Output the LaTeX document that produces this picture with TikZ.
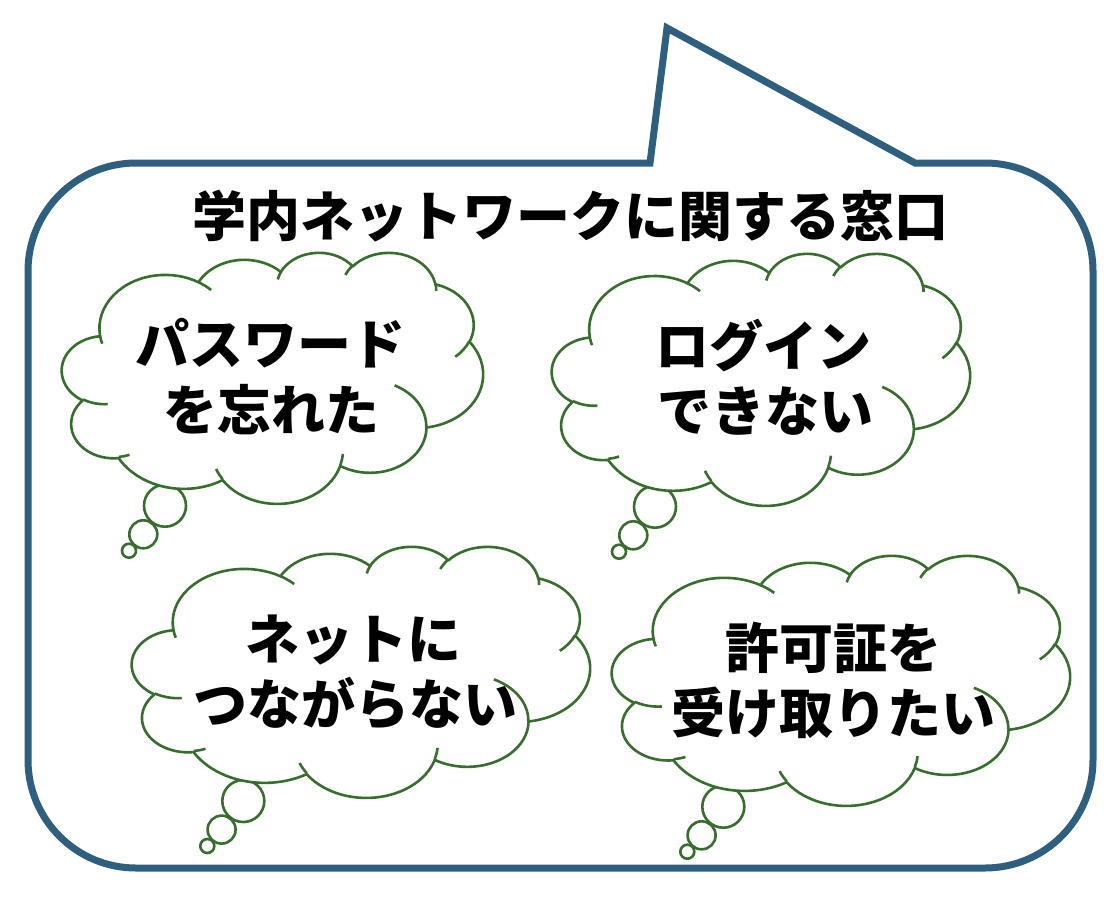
\documentclass[tikz,border=0pt]{standalone}
\usepackage{fontspec}
\newfontfamily\cjk{Noto Sans CJK JP}
\definecolor{bubbleblue}{RGB}{46,95,127}
\definecolor{cloudgreen}{RGB}{55,110,45}
\makeatletter
\pgfmathdeclarefunction{vconv}{3}{%
  \begingroup
  \pgfmathparse{atan2((#2)*sin(#1),(#3)*cos(#1))}%
  \let\vc@p\pgfmathresult
  \pgfmathparse{(#1)+atan2(sin(\vc@p-(#1)),cos(\vc@p-(#1)))}%
  \pgfmath@smuggleone\pgfmathresult
  \endgroup}
\makeatother
\newcommand\oarc[4]{arc[x radius=#1, y radius=#2, start angle={vconv(#3,#1,#2)}, end angle={vconv(#3+#4,#1,#2)}]}
\newcommand\cloudouter{(39.00,143.70)
  \oarc{67.53}{91.90}{-190.4875}{123.7805}
  \oarc{53.33}{72.67}{-144.10238}{89.94523}
  \oarc{43.65}{59.45}{-145.80792}{99.72302}
  \oarc{48.57}{65.95}{-130.98607}{117.24173}
  \oarc{53.33}{72.73}{-78.70888}{109.02692}
  \oarc{67.75}{92.20}{-46.26725}{130.269}
  \oarc{57.85}{78.67}{0.62502}{114.03333}
  \oarc{67.52}{92.15}{22.4516}{115.17255}
  \oarc{77.20}{105.43}{66.24263}{75.71102}
  \oarc{43.60}{59.18}{-274.94208}{146.73557}
  \oarc{43.45}{59.45}{-246.8285}{152.51885}
  -- cycle}
\newcommand\cloudinner{
  (46.93,261.77) \oarc{43.45}{59.45}{86.742}{26.4295}
  (69.28,348.99) \oarc{43.60}{59.18}{73.61047}{11.44747}
  (164.78,390.90) \oarc{67.52}{92.15}{137.62415}{14.0811}
  (288.27,347.51) \oarc{67.52}{92.15}{6.45327}{15.99835}
  (341.29,229.54) \oarc{57.85}{78.67}{-70.29235}{70.91737}
  (417.98,153.54) \oarc{53.33}{72.73}{30.31803}{27.7515}
  (383.24,54.26) \oarc{48.57}{65.95}{-13.74433}{14.8589}
  (290.78,39.52) \oarc{48.57}{65.95}{-149.18145}{18.19537}
  (221.41,47.20) \oarc{43.65}{59.45}{-163.49427}{17.68635}
  (140.00,51.92) \oarc{67.53}{91.90}{-66.70695}{12.31935}
  (41.27,157.89) \oarc{67.53}{91.90}{157.65435}{11.85817}}
\newcommand\drawcloud[4]{%
  \begin{scope}[shift={(#1,-#2)}, xscale=#3/432, yscale=-#4/432]
    \draw[cloudline, fill=white] \cloudouter;
    \draw[cloudline] \cloudinner;
  \end{scope}}
\tikzset{
  cloudline/.style={draw=cloudgreen, line width=2.6pt, line join=round},
  bubbleline/.style={draw=bubbleblue, line width=7pt, line join=miter},
  cloudtext/.style={font=\cjk\bfseries\fontsize{54}{65}\selectfont, anchor=base, inner sep=0pt},
  titletext/.style={font=\cjk\bfseries\fontsize{54}{65}\selectfont, anchor=base, inner sep=0pt},
}
\begin{document}
\begin{tikzpicture}[x=1pt,y=1pt]
\useasboundingbox (0,0) rectangle (1116,-898);
\fill[white] (0,0) rectangle (1116,-898);
% speech bubble
\draw[bubbleline, fill=white] (650,-163) -- (667,-28) -- (915,-163) -- (985,-163)
  arc[start angle=90, end angle=0, radius=108] -- (1093,-760)
  arc[start angle=0, end angle=-90, radius=108] -- (136,-868)
  arc[start angle=-90, end angle=-180, radius=108] -- (28,-271)
  arc[start angle=180, end angle=90, radius=108] -- cycle;
\node[titletext] (title) at (570,-236) {学内ネットワークに関する窓口};
% bubbles of the clouds
\foreach \cx/\cy in {0/0, 490/1.0, 78.3/295.3, 558.3/301}{
  \draw[cloudline, fill=white] (165+\cx,-505.7-\cy) circle[radius=21];
  \draw[cloudline, fill=white] (143.3+\cx,-534.3-\cy) circle[radius=14];
  \draw[cloudline, fill=white] (129+\cx,-550.7-\cy) circle[radius=7];
}
% clouds
\drawcloud{62}{252}{421}{251}
\drawcloud{552}{253}{418}{252}
\drawcloud{132}{546}{458}{251}
\drawcloud{612}{555}{458}{250}
% texts
\node[cloudtext] (c1a) at (270,-364) {パスワード};
\node[cloudtext] (c1b) at (271,-430) {を忘れた};
\node[cloudtext] (c2a) at (763,-366) {ログイン};
\node[cloudtext] (c2b) at (765,-431) {できない};
\node[cloudtext] (c3a) at (353,-659) {ネットに};
\node[cloudtext] (c3b) at (355,-724) {つながらない};
\node[cloudtext] (c4a) at (833,-668) {許可証を};
\node[cloudtext] (c4b) at (833,-733) {受け取りたい};
\end{tikzpicture}
\end{document}
